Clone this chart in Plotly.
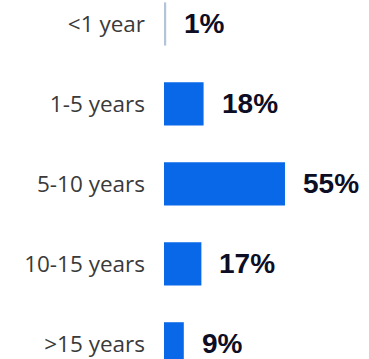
import plotly.graph_objects as go

# Tenure buckets and their share of respondents (%)
categories = ["<1 year", "1-5 years", "5-10 years", "10-15 years", ">15 years"]
shares = [1, 18, 55, 17, 9]
value_labels = ["1%", "18%", "55%", "17%", "9%"]

BAR_COLOR = "#0868E8"
THIN_BAR_COLOR = "#b4c4d8"  # the 1% sliver renders as a pale hairline
LABEL_COLOR = "#0d0d24"

bar_colors = [THIN_BAR_COLOR if v < 2 else BAR_COLOR for v in shares]

fig = go.Figure(
    go.Bar(
        x=shares,
        y=categories,
        orientation="h",
        marker=dict(color=bar_colors, line=dict(width=0)),
        width=0.54,
        hoverinfo="skip",
    )
)

# Bold percentage labels placed just right of each bar end
for cat, val, txt in zip(categories, shares, value_labels):
    fig.add_annotation(
        x=val, y=cat, text=f"<b>{txt}</b>",
        xanchor="left", yanchor="middle", xshift=16, showarrow=False,
        font=dict(family="Liberation Sans, Arial", size=28, color=LABEL_COLOR),
    )

fig.update_layout(
    width=369, height=359,
    margin=dict(l=164, r=0, t=0, b=0),
    paper_bgcolor="white", plot_bgcolor="white",
    showlegend=False,
    xaxis=dict(range=[0, 93.2], visible=False, fixedrange=True),
    yaxis=dict(
        categoryorder="array", categoryarray=categories,
        range=[4.19, -0.3],
        showgrid=False, zeroline=False, showline=False,
        ticks="", ticklabelstandoff=18,
        tickfont=dict(family="Open Sans", size=22.5, color="#3a3a3a"),
        fixedrange=True,
    ),
)

fig.write_html("out.html")
